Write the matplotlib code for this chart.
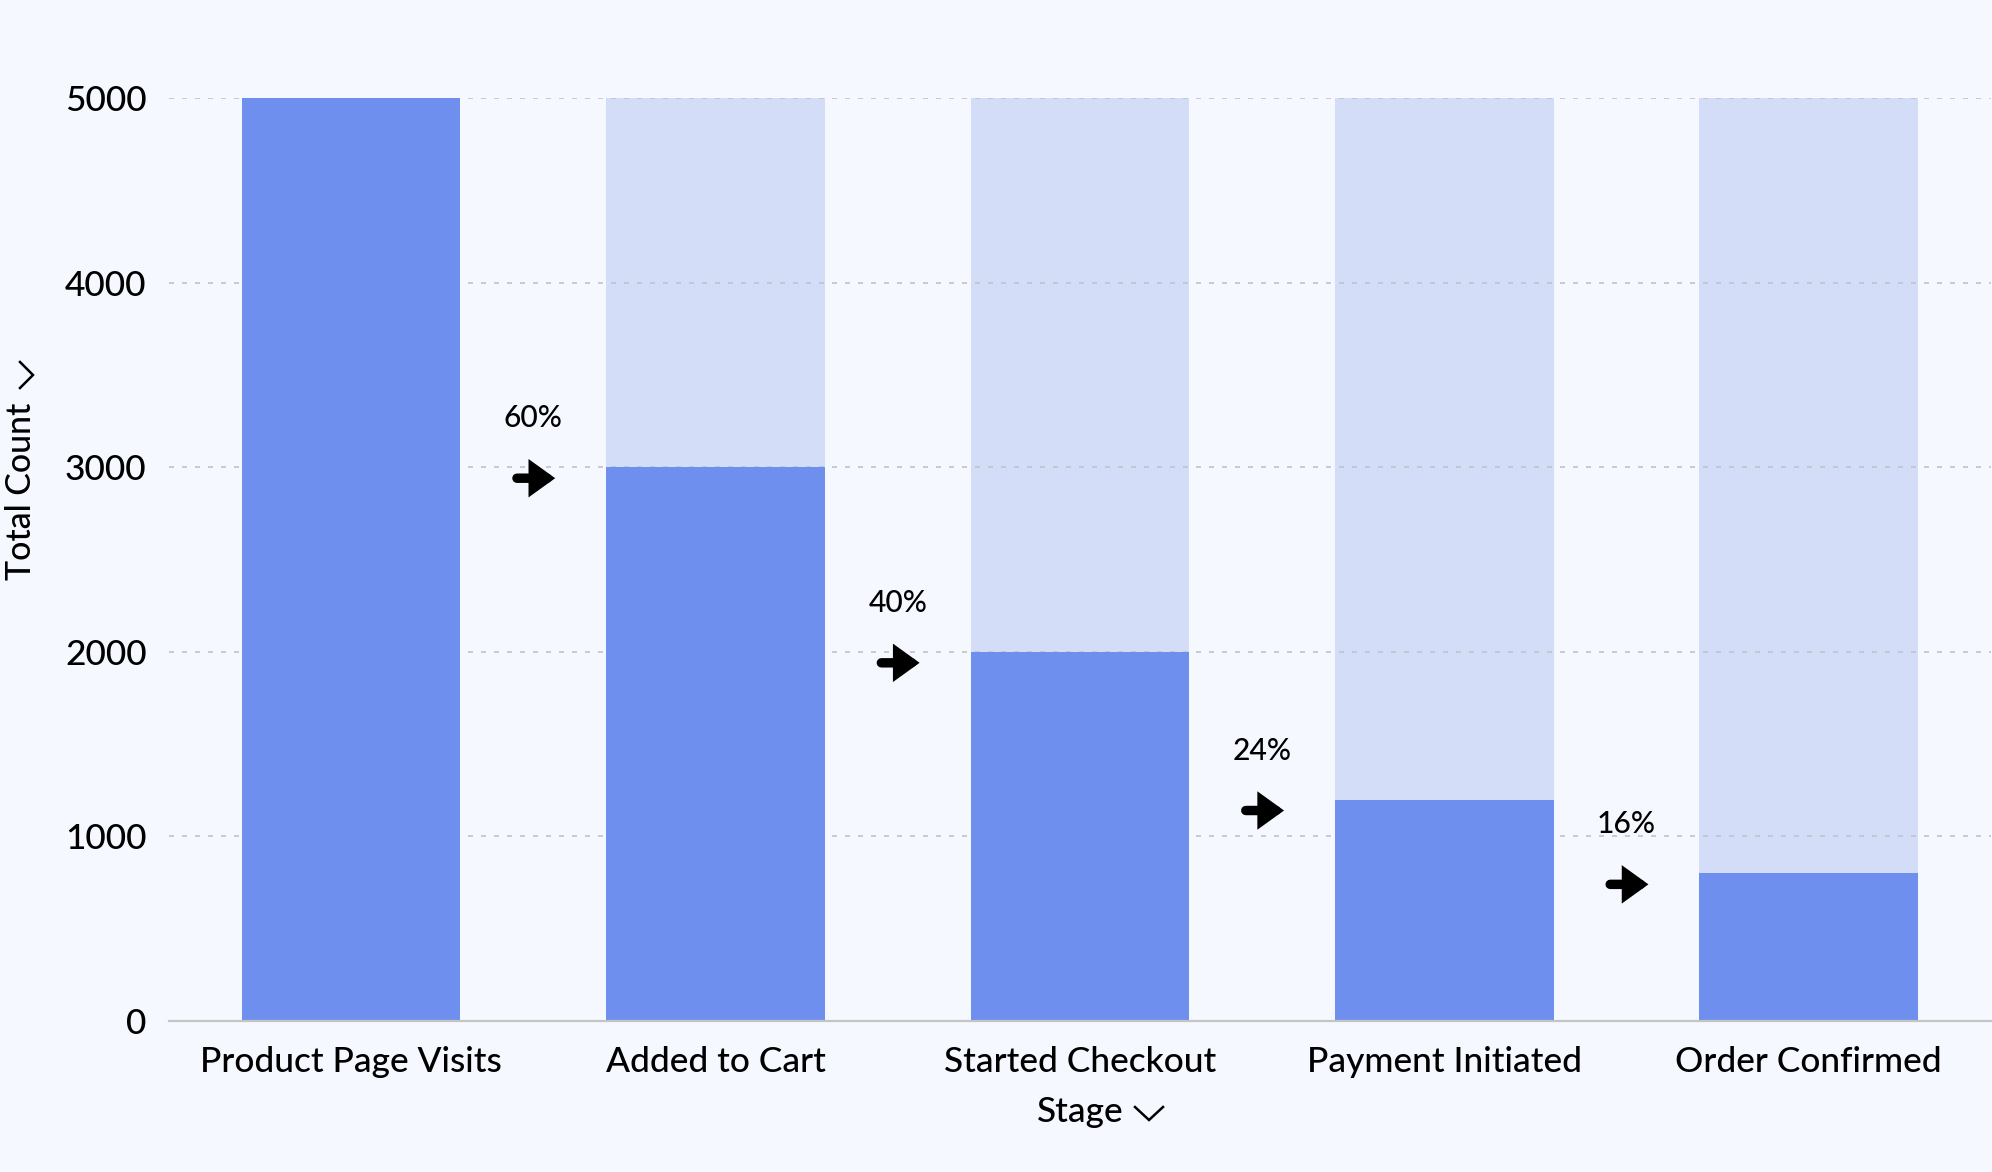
import matplotlib
matplotlib.use("Agg")
import matplotlib.pyplot as plt
from matplotlib.lines import Line2D
from matplotlib.transforms import offset_copy

plt.rcParams["font.family"] = ["Lato", "DejaVu Sans"]
plt.rcParams["font.weight"] = "medium"

stages = ["Product Page Visits", "Added to Cart", "Started Checkout",
          "Payment Initiated", "Order Confirmed"]
counts = [5000, 3000, 2000, 1200, 800]
y_ticks = [0, 1000, 2000, 3000, 4000, 5000]

BG = "#F5F8FE"
DARK = "#6E8FEE"
LIGHT = "#D4DDF8"
GRID = "#BFC3CA"

fig = plt.figure(figsize=(9.96, 5.86), dpi=200, facecolor=BG)
ax = fig.add_axes([0.0848, 0.1288, 0.9147, 0.7876], facecolor=BG)

x = range(len(stages))
top = max(counts)
ax.bar(x, [top] * len(stages), width=0.6, color=LIGHT, zorder=1)
ax.bar(x, counts, width=0.6, color=DARK, zorder=3)

ax.set_xlim(-0.5, len(stages) - 0.5)
ax.set_ylim(0, top)
ax.set_yticks(y_ticks)
ax.set_xticks(list(x))
ax.set_xticklabels(stages)
ax.tick_params(axis="both", length=0, labelsize=12.7, colors="black")
ax.tick_params(axis="y", pad=8)
ax.tick_params(axis="x", pad=9)
ax.set_axisbelow(False)
ax.grid(axis="y", color=GRID, linestyle=(0, (3, 4.8)), linewidth=0.6, zorder=2)
for s in ["top", "right", "left"]:
    ax.spines[s].set_visible(False)
ax.spines["bottom"].set_color("#C4C4C4")
ax.spines["bottom"].set_linewidth(0.8)
ax.spines["bottom"].set_zorder(4)

# conversion arrows between bars, sitting just below the next bar's top
arrow_tr = offset_copy(ax.transData, fig=fig, y=-11, units="dots")
for i in range(1, len(counts)):
    mid = i - 0.5
    pct = f"{counts[i] / counts[0] * 100:.0f}%"
    ax.annotate("", xy=(mid + 0.06, counts[i]), xytext=(mid - 0.045, counts[i]),
                xycoords=arrow_tr, textcoords=arrow_tr,
                arrowprops=dict(arrowstyle="-|>,head_length=0.5,head_width=0.36",
                                lw=3.4, color="black", capstyle="round",
                                joinstyle="miter", shrinkA=0, shrinkB=0,
                                mutation_scale=10), zorder=5)
    ax.annotate(pct, xy=(mid, counts[i]), xytext=(0, 17.6),
                textcoords="offset points", ha="center", va="center",
                fontsize=10.8, zorder=5)

# axis titles with little chevrons
fig.text(1080 / 1992, 1 - 1112 / 1172, "Stage", ha="center", va="center",
         fontsize=12.7)
fig.text(21 / 1992, 1 - 491 / 1172, "Total Count", ha="center", va="center",
         rotation=90, fontsize=12.2)

W, H = 1992, 1172
chev_x = [[1135 / W, 1149 / W, 1163 / W], [20 / W, 33 / W, 20 / W]]
chev_y = [[1 - 1107 / H, 1 - 1120 / H, 1 - 1107 / H],
          [1 - 362 / H, 1 - 375 / H, 1 - 388 / H]]
for cx, cy in zip(chev_x, chev_y):
    fig.add_artist(Line2D(cx, cy, transform=fig.transFigure, color="black",
                          linewidth=0.9, solid_joinstyle="miter"))

fig.savefig("out.png", dpi=200, facecolor=BG)
